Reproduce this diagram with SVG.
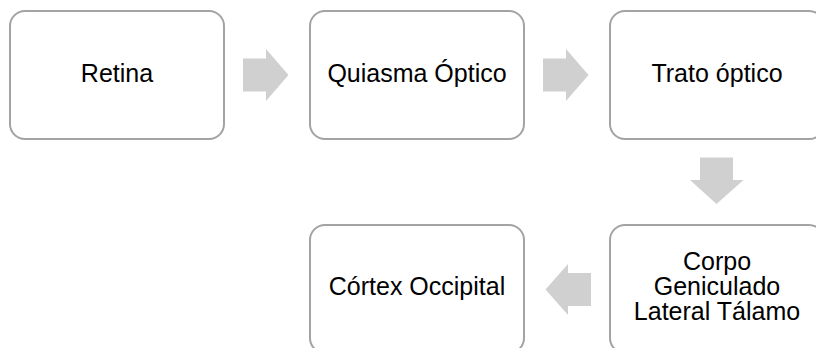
<svg xmlns="http://www.w3.org/2000/svg" width="816" height="348" viewBox="0 0 816 348">
<style>
.box{fill:#ffffff;stroke:#a3a3a3;stroke-width:2}
.t{font-family:"Liberation Sans",Arial,sans-serif;font-size:25px;fill:#000000;text-anchor:middle}
.arr{fill:#d0d0d0;stroke:none}
</style>
<rect width="816" height="348" fill="#ffffff"/>
<g id="retina"><rect class="box" x="10" y="11" width="214" height="128" rx="15"/><text class="t" x="117" y="82">Retina</text></g>
<g id="quiasma"><rect class="box" x="310" y="11" width="214" height="128" rx="15"/><text class="t" x="417" y="82">Quiasma Óptico</text></g>
<g id="trato"><rect class="box" x="610" y="11" width="214" height="128" rx="15"/><text class="t" x="717" y="82">Trato óptico</text></g>
<g id="corpo"><rect class="box" x="610" y="225" width="214" height="128" rx="15"/><text class="t" x="717" y="270">Corpo</text><text class="t" x="717" y="295">Geniculado</text><text class="t" x="717" y="320">Lateral Tálamo</text></g>
<g id="cortex"><rect class="box" x="310" y="225" width="214" height="128" rx="15"/><text class="t" x="417" y="295">Córtex Occipital</text></g>
<g id="connectors">
<polygon class="arr" points="243,58.5 266,58.5 266,49 288.5,75 266,101 266,91.5 243,91.5"/>
<polygon class="arr" points="543,58.5 566,58.5 566,49 588.5,75 566,101 566,91.5 543,91.5"/>
<polygon class="arr" points="700,157.5 733,157.5 733,180 743.5,180 716.5,204 690,180 700,180"/>
<polygon class="arr" points="591,273 568,273 568,264 545.5,289.5 568,315 568,306 591,306"/>
</g>
</svg>
